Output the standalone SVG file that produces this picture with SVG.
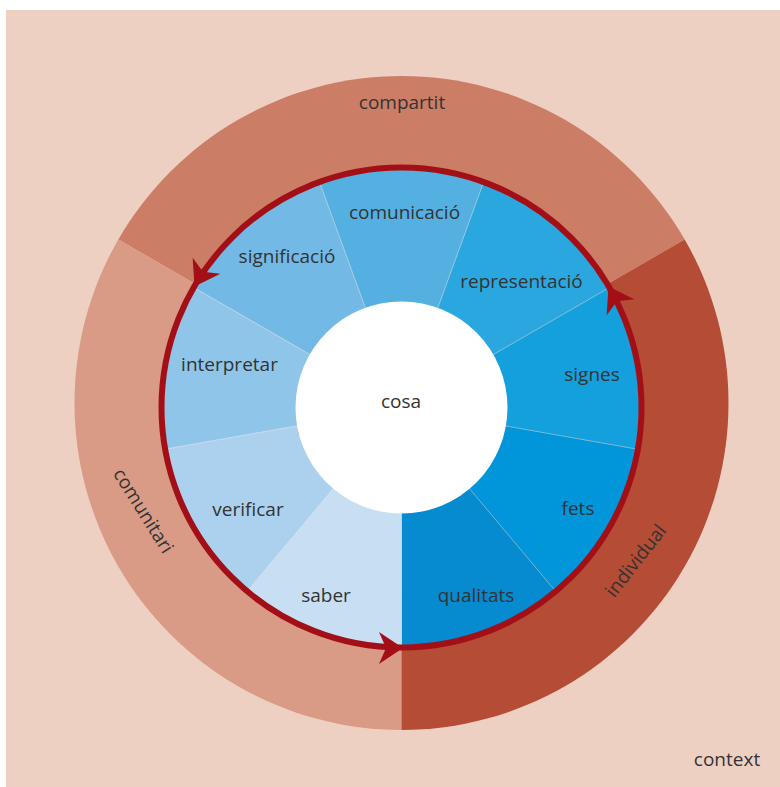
<svg xmlns="http://www.w3.org/2000/svg" width="780" height="787" viewBox="0 0 780 787">
  <style>
    text { font-family: "Open Sans", "Noto Sans", "DejaVu Sans", sans-serif; font-size: 19px; font-weight: 400; fill: #333333; text-anchor: middle; }
    .seg { stroke: #ffffff; stroke-opacity: 0.35; stroke-width: 0.8; }
    .arrow { fill: #a30f16; }
  </style>
  <defs>
    <path id="ah" d="M0,0 L-24,-16 L-17,0 L-24,16 Z"/>
  </defs>

  <g id="context">
    <rect x="6" y="10" width="774" height="777" fill="#eed0c3"/>
    <text x="727" y="766">context</text>
  </g>

  <g id="ring">
    <g id="compartit">
      <path d="M401.5,403 L684.69,239.5 A327,327 0 0 0 118.31,239.5 Z" fill="#cc7d66"/>
      <text x="402" y="109">compartit</text>
    </g>
    <g id="comunitari">
      <path d="M401.5,403 L118.31,239.5 A327,327 0 0 0 401.5,730 Z" fill="#d99b85"/>
      <text transform="translate(143,511) rotate(58)" y="6">comunitari</text>
    </g>
    <g id="individual">
      <path d="M401.5,403 L401.5,730 A327,327 0 0 0 684.69,239.5 Z" fill="#b54c35"/>
      <text transform="translate(636,561) rotate(-52)" y="6">individual</text>
    </g>
  </g>

  <g id="pie">
    <g id="qualitats">
      <path class="seg" d="M401.5,407.5 L401.5,645.5 A238,238 0 0 0 554.48,589.81 Z" fill="#068ad0"/>
      <text x="476" y="602">qualitats</text>
    </g>
    <g id="fets">
      <path class="seg" d="M401.5,407.5 L554.48,589.81 A238,238 0 0 0 635.88,448.83 Z" fill="#0096d9"/>
      <text x="578" y="515">fets</text>
    </g>
    <g id="signes">
      <path class="seg" d="M401.5,407.5 L635.88,448.83 A238,238 0 0 0 607.61,288.5 Z" fill="#14a0dc"/>
      <text x="592" y="381">signes</text>
    </g>
    <g id="representacio">
      <path class="seg" d="M401.5,407.5 L607.61,288.5 A238,238 0 0 0 482.9,183.85 Z" fill="#2ba7e0"/>
      <text x="521.5" y="288">representació</text>
    </g>
    <g id="comunicacio">
      <path class="seg" d="M401.5,407.5 L482.9,183.85 A238,238 0 0 0 320.1,183.85 Z" fill="#55b0e2"/>
      <text x="404.5" y="219">comunicació</text>
    </g>
    <g id="significacio">
      <path class="seg" d="M401.5,407.5 L320.1,183.85 A238,238 0 0 0 195.39,288.5 Z" fill="#73b9e6"/>
      <text x="287" y="263">significació</text>
    </g>
    <g id="interpretar">
      <path class="seg" d="M401.5,407.5 L195.39,288.5 A238,238 0 0 0 167.12,448.83 Z" fill="#90c5ea"/>
      <text x="229.5" y="371">interpretar</text>
    </g>
    <g id="verificar">
      <path class="seg" d="M401.5,407.5 L167.12,448.83 A238,238 0 0 0 248.52,589.81 Z" fill="#abd1ef"/>
      <text x="248" y="516">verificar</text>
    </g>
    <g id="saber">
      <path class="seg" d="M401.5,407.5 L248.52,589.81 A238,238 0 0 0 401.5,645.5 Z" fill="#c8dff3"/>
      <text x="326" y="602">saber</text>
    </g>
    <g id="cosa">
      <circle cx="401.5" cy="407.5" r="106" fill="#ffffff"/>
      <text x="401" y="408">cosa</text>
    </g>
  </g>

  <g id="connectors">
    <circle cx="401.5" cy="407.5" r="240" fill="none" stroke="#a30f16" stroke-width="6"/>
    <use href="#ah" class="arrow" transform="translate(403,648) rotate(0)"/>
    <use href="#ah" class="arrow" transform="translate(608.5,286.5) rotate(-120)"/>
    <use href="#ah" class="arrow" transform="translate(194.5,286.5) rotate(120)"/>
  </g>
</svg>
